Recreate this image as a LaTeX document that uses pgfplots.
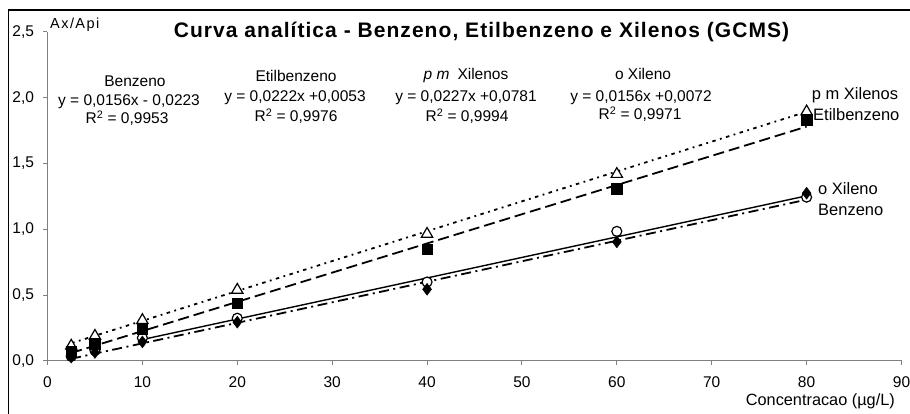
\documentclass[border=0pt]{standalone}
\usepackage{pgfplots}
\pgfplotsset{compat=1.18}
\usepackage{fontspec}
\setmainfont{Liberation Sans}
\definecolor{axgray}{HTML}{808080}
\begin{document}
\begin{tikzpicture}
\begin{axis}[
  at={(0pt,0pt)}, anchor=origin,
  scale only axis, width=854pt, height=329pt,
  xmin=0, xmax=90, ymin=0, ymax=2.5,
  axis lines*=left,
  axis line style={axgray, line width=1pt},
  every tick/.style={axgray, line width=1pt},
  tick align=outside, major tick length=4pt,
  xtick={0,10,...,90}, ytick={0,0.5,1,1.5,2,2.5},
  /pgf/number format/assume math mode=true,
  tick label style={font=\fontsize{15.5}{18}\selectfont},
  yticklabel style={xshift=-6pt, /pgf/number format/.cd, fixed, fixed zerofill, precision=1, use comma},
  xticklabel style={yshift=-8pt},
  clip=false,
]
% trend lines
\addplot[black, line width=1.8pt, dash pattern=on 3.5pt off 4.5pt on 1.8pt off 4.5pt] coordinates {(2.5,0.135) (80,1.894)};
\addplot[black, line width=1.8pt, dash pattern=on 11pt off 5pt] coordinates {(2.5,0.061) (80,1.781)};
\addplot[black, line width=1.8pt, dash pattern=on 10pt off 4.5pt on 2pt off 4.5pt] coordinates {(2.5,0.017) (80,1.226)};
\addplot[black, line width=1.4pt] coordinates {(10,0.163) (80,1.255)};
% markers
\addplot[only marks, mark=triangle*, mark size=6.5pt, mark options={fill=white, draw=black, line width=1.2pt}] coordinates {
(2.5,0.115) (5,0.19) (10,0.31) (20,0.54) (40,0.965) (60,1.42) (80,1.895)};
\addplot[only marks, mark=*, mark size=5pt, mark options={fill=white, draw=black, line width=1.2pt}] coordinates {
(2.5,0.035) (5,0.08) (10,0.175) (20,0.325) (40,0.6) (60,0.985) (80,1.245)};
\addplot[only marks, mark=square*, mark size=5.3pt, mark options={fill=black, draw=black}] coordinates {
(2.5,0.07) (5,0.13) (10,0.245) (20,0.44) (40,0.85) (60,1.31) (80,1.835)};
\addplot[only marks, mark=diamond*, mark size=6pt, mark options={fill=black, draw=black}] coordinates {
(2.5,0.03) (5,0.065) (10,0.145) (20,0.295) (40,0.545) (60,0.905) (80,1.275)};
\end{axis}
\begin{scope}[x=1pt, y=1pt, shift={(-47.5pt,361pt)}]
\draw[black, line width=1.2pt] (8.5,-414) -- (8.5,-10) -- (910,-10);
\node[anchor=base, font=\fontsize{21}{24}\selectfont\bfseries\addfontfeatures{LetterSpace=5}, inner sep=0pt] at (481.5,-38) {Curva analítica - Benzeno, Etilbenzeno e Xilenos (GCMS)};
\node[anchor=base west, font=\fontsize{14.5}{16}\selectfont\addfontfeatures{LetterSpace=10}, inner sep=0pt] at (50,-29) {Ax/Api};
\node[anchor=base east, font=\fontsize{16.3}{18}\selectfont, inner sep=0pt] at (895,-406) {Concentracao (µg/L)};
\begin{scope}[every node/.style={anchor=base, font=\fontsize{15.5}{18}\selectfont, inner sep=0pt}]
\node at (135,-87) {Benzeno};
\node at (129,-106) {y = 0,0156x - 0,0223};
\node at (127,-124) {R\textsuperscript{2} = 0,9953};
\node at (296,-82) {Etilbenzeno};
\node at (295,-102) {y = 0,0222x +0,0053};
\node at (296,-122) {R\textsuperscript{2} = 0,9976};
\node at (466,-80) {\textit{p m}\hspace{8pt}Xilenos};
\node at (466,-101.5) {y = 0,0227x +0,0781};
\node at (467,-121.5) {R\textsuperscript{2} = 0,9994};
\node at (643,-80) {o Xileno};
\node at (641,-101.5) {y = 0,0156x +0,0072};
\node at (640,-120) {R\textsuperscript{2} = 0,9971};
\end{scope}
\begin{scope}[every node/.style={anchor=base west, font=\fontsize{16.5}{18}\selectfont, inner sep=0pt}]
\node at (811.7,-100) {p m Xilenos};
\node at (813,-120.7) {Etilbenzeno};
\node at (818,-195) {o Xileno};
\node at (818,-216) {Benzeno};
\end{scope}
\end{scope}
\pgfresetboundingbox
\path[use as bounding box] (-47.5pt,-53pt) rectangle (862.5pt,361pt);
\end{tikzpicture}
\end{document}
